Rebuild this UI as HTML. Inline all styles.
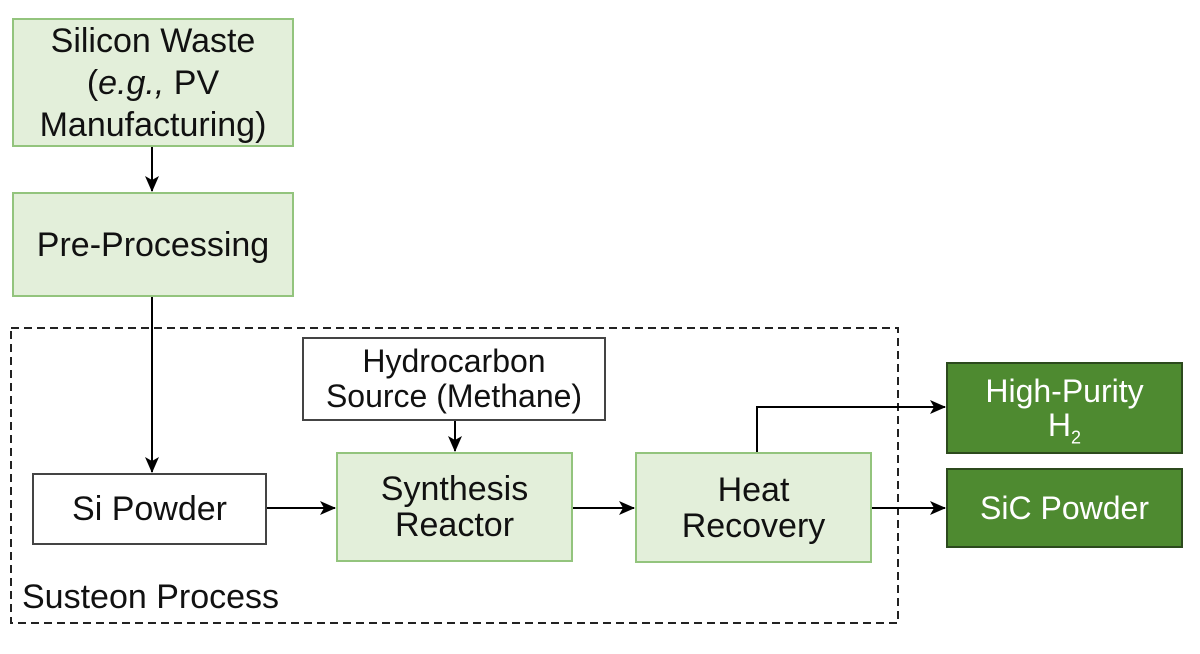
<!DOCTYPE html>
<html><head><meta charset="utf-8"><style>
body{margin:0;background:#fff;width:1200px;height:654px;overflow:hidden;font-family:"Liberation Sans",sans-serif;}
.b{position:absolute;box-sizing:border-box;display:flex;align-items:center;justify-content:center;text-align:center;font-size:34px;line-height:36px;color:#111;}
.b span{display:block;}
.g{background:#e3efda;border:2px solid #93c47d;}
.w{background:#fff;border:2px solid #444;}
.d{background:#4e8a30;border:2px solid #2c4a1d;color:#fff;}
</style></head><body>
<svg width="1200" height="654" style="position:absolute;left:0;top:0">
<defs><marker id="a" markerWidth="16" markerHeight="14" refX="15" refY="7" orient="auto" markerUnits="userSpaceOnUse"><path d="M0,0 L16,7 L0,14 L4,7 z" fill="#000"/></marker></defs>
<rect x="11" y="328" width="887" height="295" fill="none" stroke="#222" stroke-width="2" stroke-dasharray="8,5"/>
<g stroke="#000" stroke-width="2" fill="none" marker-end="url(#a)">
<line x1="152" y1="146" x2="152" y2="191"/>
<line x1="152" y1="296" x2="152" y2="472"/>
<line x1="266" y1="508" x2="335" y2="508"/>
<line x1="455" y1="420" x2="455" y2="451"/>
<line x1="572" y1="508" x2="634" y2="508"/>
<line x1="871" y1="508" x2="945" y2="508"/>
<polyline points="757,452 757,407 945,407"/>
</g>
</svg>
<div class="b g" style="left:12px;top:18px;width:282px;height:129px;line-height:42px"><span>Silicon Waste<br>(<i>e.g.,</i> PV<br>Manufacturing)</span></div>
<div class="b g" style="left:12px;top:192px;width:282px;height:105px"><span>Pre-Processing</span></div>
<div class="b w" style="left:302px;top:337px;width:304px;height:84px;line-height:35px;font-size:32px"><span>Hydrocarbon<br>Source (Methane)</span></div>
<div class="b w" style="left:32px;top:473px;width:235px;height:72px"><span>Si Powder</span></div>
<div class="b g" style="left:336px;top:452px;width:237px;height:110px"><span>Synthesis<br>Reactor</span></div>
<div class="b g" style="left:635px;top:452px;width:237px;height:111px"><span>Heat<br>Recovery</span></div>
<div class="b d" style="left:946px;top:362px;width:237px;height:92px;line-height:34px;font-size:32px"><span>High-Purity<br>H<sub style="font-size:18px;line-height:0">2</sub></span></div>
<div class="b d" style="left:946px;top:468px;width:237px;height:80px;font-size:32px"><span>SiC Powder</span></div>
<div style="position:absolute;left:22px;top:578px;font-size:34px;color:#111">Susteon Process</div>
</body></html>
